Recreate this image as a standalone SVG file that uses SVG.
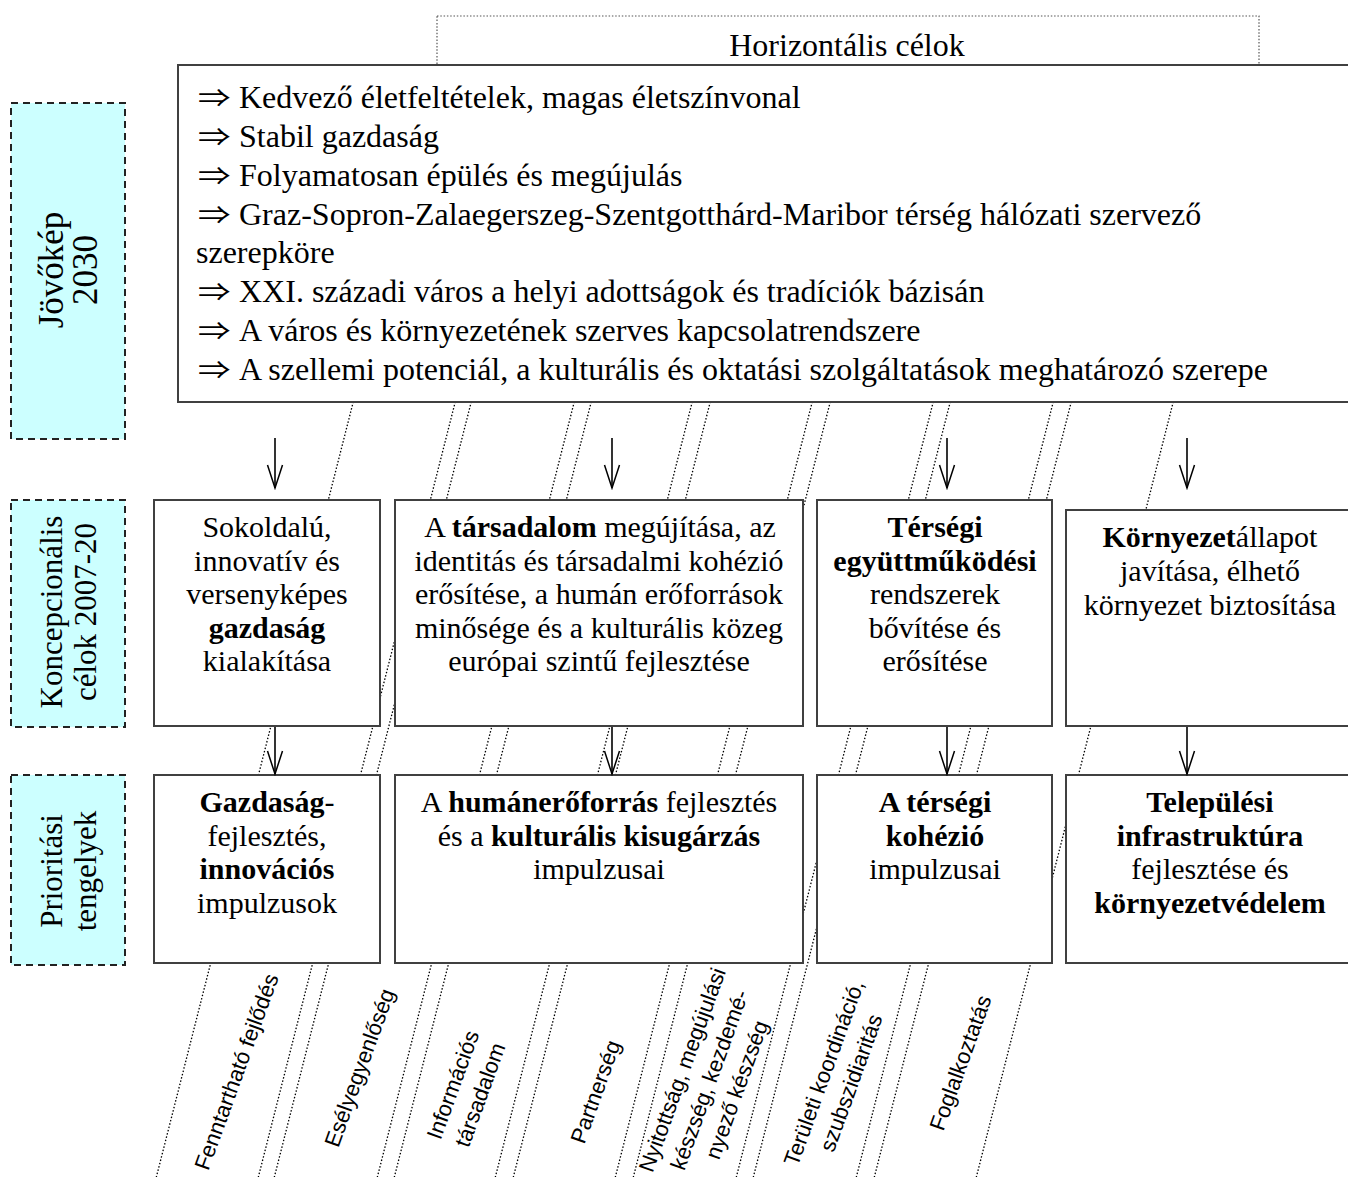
<svg xmlns="http://www.w3.org/2000/svg" width="1348" height="1177" viewBox="0 0 1348 1177">
<defs>
<marker id="ah" viewBox="-25 -9 27 18" refX="0" refY="0" markerWidth="27" markerHeight="18" markerUnits="userSpaceOnUse" orient="auto">
<path d="M-23,-7.5 L0,0 L-23,7.5" fill="none" stroke="#000" stroke-width="1.5"/>
</marker>
<style>
.box{fill:#fff;stroke:#404040;stroke-width:2}
.lbl{fill:#ccffff;stroke:#222;stroke-width:2;stroke-dasharray:7,5}
.t{font-family:"Liberation Serif","DejaVu Serif",serif;fill:#000}
.m{font-size:32px}
.ar{font-family:"Noto Sans CJK JP","DejaVu Serif",serif;font-size:25px;fill:#000}
.c{font-size:30px;text-anchor:middle}
.v{font-size:31px;text-anchor:middle}
.vj{font-size:35px;text-anchor:middle}
.s{font-family:"Liberation Sans",Arial,sans-serif;font-size:22px;text-anchor:middle;fill:#000}
.dl{stroke:#000;stroke-width:1.3;stroke-dasharray:1.5,1.9;fill:none}
.hb{fill:none;stroke:#555;stroke-width:1.2;stroke-dasharray:1.5,1.8}
.arr{stroke:#000;stroke-width:1.6;fill:none;marker-end:url(#ah)}
.bd{font-weight:bold}
</style>
</defs>
<rect width="1348" height="1177" fill="#fff"/>

<g id="horizontal-bands">
<line class="dl" x1="355" y1="395" x2="155.6" y2="1180"/>
<line class="dl" x1="457" y1="395" x2="257.6" y2="1180"/>
<line class="dl" x1="473" y1="395" x2="273.6" y2="1180"/>
<line class="dl" x1="576" y1="395" x2="376.6" y2="1180"/>
<line class="dl" x1="593" y1="395" x2="393.6" y2="1180"/>
<line class="dl" x1="694" y1="395" x2="494.6" y2="1180"/>
<line class="dl" x1="712" y1="395" x2="512.6" y2="1180"/>
<line class="dl" x1="814" y1="395" x2="614.6" y2="1180"/>
<line class="dl" x1="832" y1="395" x2="632.6" y2="1180"/>
<line class="dl" x1="935" y1="395" x2="735.6" y2="1180"/>
<line class="dl" x1="952" y1="395" x2="752.6" y2="1180"/>
<line class="dl" x1="1055" y1="395" x2="855.6" y2="1180"/>
<line class="dl" x1="1073" y1="395" x2="873.6" y2="1180"/>
<line class="dl" x1="1175" y1="395" x2="975.6" y2="1180"/>
</g>

<g id="horizontal-goals">
<rect class="hb" x="437" y="16" width="822" height="60"/>
<text class="t m" x="847" y="56" text-anchor="middle">Horizontális célok</text>
</g>

<g id="vision">
<rect class="box" x="178" y="65" width="1180" height="337"/>
<text class="ar" transform="translate(198,107) scale(1.3,1)">⇒</text>
<text class="ar" transform="translate(198,146) scale(1.3,1)">⇒</text>
<text class="ar" transform="translate(198,185) scale(1.3,1)">⇒</text>
<text class="ar" transform="translate(198,224) scale(1.3,1)">⇒</text>
<text class="ar" transform="translate(198,301) scale(1.3,1)">⇒</text>
<text class="ar" transform="translate(198,340) scale(1.3,1)">⇒</text>
<text class="ar" transform="translate(198,379) scale(1.3,1)">⇒</text>
<text class="t m">
<tspan x="239" y="108">Kedvező életfeltételek, magas életszínvonal</tspan>
<tspan x="239" y="147">Stabil gazdaság</tspan>
<tspan x="239" y="186">Folyamatosan épülés és megújulás</tspan>
<tspan x="239" y="225">Graz-Sopron-Zalaegerszeg-Szentgotthárd-Maribor térség hálózati szervező</tspan>
<tspan x="196" y="263">szerepköre</tspan>
<tspan x="239" y="302">XXI. századi város a helyi adottságok és tradíciók bázisán</tspan>
<tspan x="239" y="341">A város és környezetének szerves kapcsolatrendszere</tspan>
<tspan x="239" y="380">A szellemi potenciál, a kulturális és oktatási szolgáltatások meghatározó szerepe</tspan>
</text>
</g>

<g id="label-jovokep">
<rect class="lbl" x="11" y="103" width="114" height="336"/>
<text class="t vj" transform="translate(67,270) rotate(-90)"><tspan x="0" y="-4">Jövőkép</tspan><tspan x="0" y="30">2030</tspan></text>
</g>
<g id="label-koncepcio">
<rect class="lbl" x="11" y="500" width="114" height="227"/>
<text class="t v" transform="translate(67,612) rotate(-90)"><tspan x="0" y="-5">Koncepcionális</tspan><tspan x="0" y="29">célok 2007-20</tspan></text>
</g>
<g id="label-prioritas">
<rect class="lbl" x="11" y="775" width="114" height="190"/>
<text class="t v" transform="translate(67,871) rotate(-90)"><tspan x="0" y="-5">Prioritási</tspan><tspan x="0" y="29">tengelyek</tspan></text>
</g>

<g id="goal-gazdasag">
<rect class="box" x="154" y="500" width="226" height="226"/>
<text class="t c"><tspan x="267" y="537">Sokoldalú,</tspan><tspan x="267" y="571">innovatív és</tspan><tspan x="267" y="604">versenyképes</tspan><tspan x="267" y="638" class="bd">gazdaság</tspan><tspan x="267" y="671">kialakítása</tspan></text>
</g>
<g id="goal-tarsadalom">
<rect class="box" x="395" y="500" width="408" height="226"/>
<text class="t c"><tspan x="600" y="537">A <tspan class="bd">társadalom</tspan> megújítása, az</tspan><tspan x="599" y="571">identitás és társadalmi kohézió</tspan><tspan x="599" y="604">erősítése, a humán erőforrások</tspan><tspan x="599" y="638">minősége és a kulturális közeg</tspan><tspan x="599" y="671">európai szintű fejlesztése</tspan></text>
</g>
<g id="goal-tersegi">
<rect class="box" x="817" y="500" width="235" height="226"/>
<text class="t c"><tspan x="935" y="537" class="bd">Térségi</tspan><tspan x="935" y="571" class="bd">együttműködési</tspan><tspan x="935" y="604">rendszerek</tspan><tspan x="935" y="638">bővítése és</tspan><tspan x="935" y="671">erősítése</tspan></text>
</g>
<g id="goal-kornyezet">
<rect class="box" x="1066" y="510" width="290" height="216"/>
<text class="t c"><tspan x="1210" y="547"><tspan class="bd">Környezet</tspan>állapot</tspan><tspan x="1210" y="581">javítása, élhető</tspan><tspan x="1210" y="615">környezet biztosítása</tspan></text>
</g>

<g id="axis-gazdasag">
<rect class="box" x="154" y="775" width="226" height="188"/>
<text class="t c"><tspan x="267" y="812"><tspan class="bd">Gazdaság</tspan>-</tspan><tspan x="267" y="846">fejlesztés,</tspan><tspan x="267" y="879" class="bd">innovációs</tspan><tspan x="267" y="913">impulzusok</tspan></text>
</g>
<g id="axis-human">
<rect class="box" x="395" y="775" width="408" height="188"/>
<text class="t c"><tspan x="599" y="812">A <tspan class="bd">humánerőforrás</tspan> fejlesztés</tspan><tspan x="599" y="846">és a <tspan class="bd">kulturális kisugárzás</tspan></tspan><tspan x="599" y="879">impulzusai</tspan></text>
</g>
<g id="axis-kohezio">
<rect class="box" x="817" y="775" width="235" height="188"/>
<text class="t c"><tspan x="935" y="812" class="bd">A térségi</tspan><tspan x="935" y="846" class="bd">kohézió</tspan><tspan x="935" y="879">impulzusai</tspan></text>
</g>
<g id="axis-infra">
<rect class="box" x="1066" y="775" width="290" height="188"/>
<text class="t c"><tspan x="1210" y="812" class="bd">Települési</tspan><tspan x="1210" y="846" class="bd">infrastruktúra</tspan><tspan x="1210" y="879">fejlesztése és</tspan><tspan x="1210" y="913" class="bd">környezetvédelem</tspan></text>
</g>

<g id="connectors">
<line class="arr" x1="275" y1="438" x2="275" y2="488"/>
<line class="arr" x1="612" y1="438" x2="612" y2="488"/>
<line class="arr" x1="947" y1="438" x2="947" y2="488"/>
<line class="arr" x1="1187" y1="438" x2="1187" y2="488"/>
<line class="arr" x1="275" y1="727" x2="275" y2="774"/>
<line class="arr" x1="612" y1="727" x2="612" y2="774"/>
<line class="arr" x1="947" y1="727" x2="947" y2="774"/>
<line class="arr" x1="1187" y1="727" x2="1187" y2="774"/>
</g>

<g id="band-labels">
<text class="s" transform="translate(237,1072) rotate(-70)"><tspan x="0" y="7">Fenntartható fejlődés</tspan></text>
<text class="s" transform="translate(360,1068) rotate(-70)"><tspan x="0" y="7">Esélyegyenlőség</tspan></text>
<text class="s" transform="translate(467,1090) rotate(-70)"><tspan x="0" y="-7.5">Információs</tspan><tspan x="0" y="21.5">társadalom</tspan></text>
<text class="s" transform="translate(596,1092) rotate(-70)"><tspan x="0" y="7">Partnerség</tspan></text>
<text class="s" transform="translate(710,1080) rotate(-70)"><tspan x="0" y="-22">Nyitottság, megújulási</tspan><tspan x="0" y="7">készség, kezdemé-</tspan><tspan x="0" y="36">nyező készség</tspan></text>
<text class="s" transform="translate(838,1078) rotate(-70)"><tspan x="0" y="-7.5">Területi koordináció,</tspan><tspan x="0" y="21.5">szubszidiaritás</tspan></text>
<text class="s" transform="translate(961,1063) rotate(-70)"><tspan x="0" y="7">Foglalkoztatás</tspan></text>
</g>
</svg>
